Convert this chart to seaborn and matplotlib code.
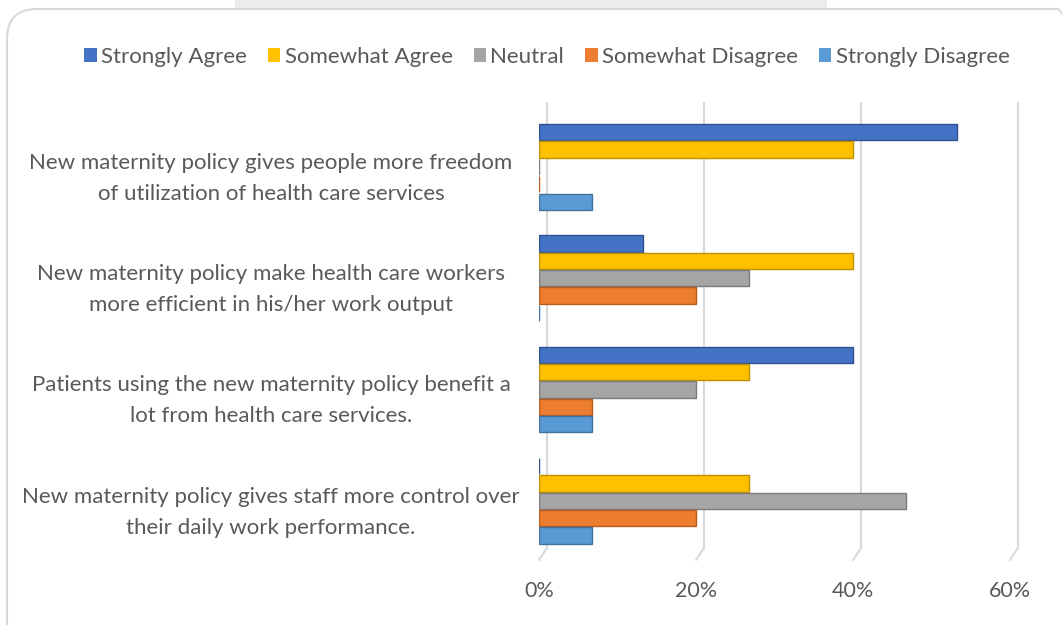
import matplotlib
matplotlib.use('Agg')
import numpy as np
import pandas as pd
import matplotlib.pyplot as plt
import matplotlib.transforms as mtransforms
from matplotlib.patches import FancyBboxPatch, Rectangle, Patch
import seaborn as sns

statements = [
    'New maternity policy gives people more freedom\nof utilization of health care services',
    'New maternity policy make health care workers\nmore efficient in his/her work output',
    'Patients using the new maternity policy benefit a\nlot from health care services.',
    'New maternity policy gives staff more control over\ntheir daily work performance.',
]
responses = ['Strongly Agree', 'Somewhat Agree', 'Neutral', 'Somewhat Disagree', 'Strongly Disagree']

strongly_agree = [53.3, 13.3, 40.0, 0.0]
somewhat_agree = [40.0, 40.0, 26.7, 26.7]
neutral = [0.0, 26.7, 20.0, 46.7]
somewhat_disagree = [0.0, 20.0, 6.7, 20.0]
strongly_disagree = [6.7, 0.0, 6.7, 6.7]

x_ticks = [0, 20, 40, 60]
colors = ['#4472C4', '#FFC000', '#A5A5A5', '#ED7D31', '#5B9BD5']
edges = ['#2F528F', '#BF9000', '#7B7B7B', '#B85C1E', '#41719C']

df = pd.DataFrame({
    'statement': np.repeat(statements, len(responses)),
    'response': responses * len(statements),
    'pct': [v for row in zip(strongly_agree, somewhat_agree, neutral,
                             somewhat_disagree, strongly_disagree) for v in row],
})

sns.set_style('white')
plt.rcParams['font.family'] = ['Lato', 'DejaVu Sans']
text_color = '#595959'

fig = plt.figure(figsize=(10.62, 6.25), dpi=100)
ax = fig.add_axes([539 / 1062, 1 - 548 / 625, 471 / 1062, 445 / 625])

sns.barplot(data=df, x='pct', y='statement', hue='response', orient='h',
            hue_order=responses, palette=colors, saturation=1, width=0.78, gap=0.06,
            ax=ax, legend=False, zorder=3)

for i, container in enumerate(ax.containers):
    for bar in container:
        bar.set_edgecolor(edges[i])
        bar.set_linewidth(1.0)

ax.set_xlim(0, 60)
ax.set_ylim(3.425, -0.575)
ax.set_xticks(x_ticks)
ax.set_xticklabels([f'{t}%' for t in x_ticks])
ax.set_xlabel('')
ax.set_ylabel('')
for s in ax.spines.values():
    s.set_visible(False)

# perspective-like gridlines: back plane shifted right, short slanted foot
off = mtransforms.ScaledTranslation(8 / 100, 0, fig.dpi_scale_trans)
blend = mtransforms.blended_transform_factory(ax.transData, ax.transAxes)
down = mtransforms.ScaledTranslation(0, -12 / 100, fig.dpi_scale_trans)
for t in x_ticks:
    ax.plot([t, t], [0, 1], transform=blend + off, color='#d9d9d9', lw=1.5, zorder=1, clip_on=False)
    p0 = (blend + off).transform((t, 0))
    p1 = (blend + down).transform((t, 0))
    fig.add_artist(plt.Line2D([p0[0], p1[0]], [p0[1], p1[1]], transform=None,
                              color='#d9d9d9', lw=1.5))

ax.tick_params(axis='x', length=0, pad=24, labelsize=15.5, labelcolor=text_color)
ax.tick_params(axis='y', length=0, pad=193, labelsize=16, labelcolor=text_color)
shift = mtransforms.ScaledTranslation(0, -4 / 100, fig.dpi_scale_trans)
for lab in ax.get_yticklabels():
    lab.set_horizontalalignment('center')
    lab.set_multialignment('center')
    lab.set_linespacing(1.68)
    lab.set_transform(lab.get_transform() + shift)

handles = [Patch(facecolor=c, edgecolor='none') for c in colors]
fig.legend(handles, responses, loc='center', bbox_to_anchor=(547 / 1062, 1 - 57 / 625),
           ncol=5, frameon=False, fontsize=16, labelcolor=text_color,
           handlelength=0.55, handleheight=0.55, handletextpad=0.2, columnspacing=0.95)

# chart border and top band
fig.add_artist(Rectangle((2.35, 6.16), 5.92, 0.1, transform=fig.dpi_scale_trans,
                         facecolor='#ececec', edgecolor='none'))
fig.add_artist(FancyBboxPatch((0.07, -0.5), 10.8, 6.66, transform=fig.dpi_scale_trans,
                              boxstyle='round,pad=0,rounding_size=0.3',
                              facecolor='none', edgecolor='#d9d9d9', lw=1.5))

fig.savefig('out.png', dpi=100)
